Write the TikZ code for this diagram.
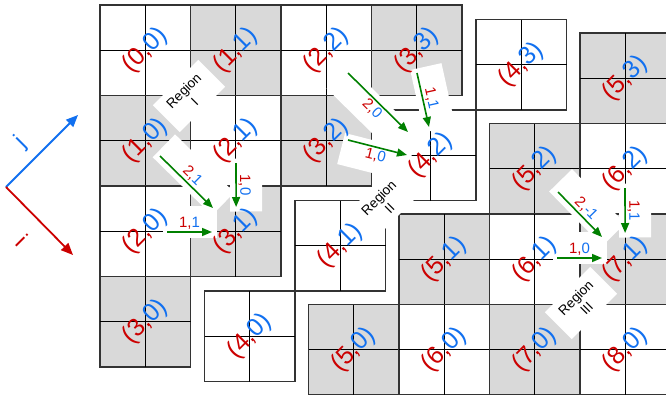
\documentclass[tikz,border=0pt]{standalone}
\usepackage{fontspec}
\setmainfont{Liberation Sans}
\usetikzlibrary{arrows.meta,calc}
\definecolor{cred}{RGB}{204,0,0}
\definecolor{cblue}{RGB}{17,112,240}
\definecolor{cgreen}{RGB}{0,128,0}
\definecolor{cgray}{RGB}{217,217,217}
\newcommand\mytile[4]{%
  \node[tile,fill=#4] (t#1#2) at (#3) {};
  \draw[crossline] (t#1#2.north) -- (t#1#2.south) (t#1#2.west) -- (t#1#2.east);}
\newcommand\mylabel[2]{%
  \node[tlab] (l#1#2) at (t#1#2) {\textcolor{cred}{(#1,}\textcolor{cblue}{#2)}};}
\begin{document}
\begin{tikzpicture}[x=1pt,y=-1pt,
  tile/.style={draw=black!80, line width=1.2pt, minimum size=90.5pt, inner sep=0pt, outer sep=0pt},
  crossline/.style={black, line width=1.1pt},
  tlab/.style={rotate=45, inner sep=0pt, font=\fontsize{25}{25}\selectfont},
  rlab/.style={fill=white, rotate=45, align=center, inner sep=1pt, minimum width=64pt, minimum height=38pt, font=\fontsize{13.5}{15.5}\selectfont},
  wabove/.style={midway, sloped, fill=white, inner sep=0pt, minimum height=32pt, anchor=south, outer sep=-6pt},
  wbelow/.style={midway, sloped, fill=white, inner sep=0pt, minimum height=32pt, anchor=north, outer sep=-6pt},
  garrow/.style={draw=cgreen, line width=1.6pt, -{Triangle[length=10pt,width=8pt]}},
  alab/.style={midway, sloped, inner sep=1.5pt, font=\fontsize{15}{15}\selectfont},
  axarrow/.style={line width=1.8pt, -{Triangle[length=12pt,width=10pt]}}]
\clip (0,0) rectangle (666,394);
\fill[white] (0,0) rectangle (666,394);
% region I grid
\mytile{0}{0}{145.25,50.25}{white}
\mytile{1}{1}{235.75,50.25}{cgray}
\mytile{2}{2}{326.25,50.25}{white}
\mytile{3}{3}{416.75,50.25}{cgray}
\mytile{1}{0}{145.25,140.75}{cgray}
\mytile{2}{1}{235.75,140.75}{white}
\mytile{3}{2}{326.25,140.75}{cgray}
\mytile{2}{0}{145.25,231.25}{white}
\mytile{3}{1}{235.75,231.25}{cgray}
\mytile{3}{0}{145.25,321.75}{cgray}
% region II
\mytile{4}{3}{521.25,64.75}{white}
\mytile{4}{2}{430.75,155.25}{white}
\mytile{4}{1}{340.25,245.75}{white}
\mytile{4}{0}{249.75,336.25}{white}
% region III
\mytile{5}{3}{625.25,78.25}{cgray}
\mytile{5}{2}{534.75,168.75}{cgray}
\mytile{6}{2}{625.25,168.75}{white}
\mytile{5}{1}{444.25,259.25}{cgray}
\mytile{6}{1}{534.75,259.25}{white}
\mytile{7}{1}{625.25,259.25}{cgray}
\mytile{5}{0}{353.75,349.75}{cgray}
\mytile{6}{0}{444.25,349.75}{white}
\mytile{7}{0}{534.75,349.75}{cgray}
\mytile{8}{0}{625.25,349.75}{white}
% arrow end points
\coordinate (a1s) at (160,156); \coordinate (a1e) at (213,208);
\coordinate (a2s) at (236,163); \coordinate (a2e) at (236.1,207);
\coordinate (a3s) at (167,232); \coordinate (a3e) at (212,232);
\coordinate (b1s) at (348,73);  \coordinate (b1e) at (408,132);
\coordinate (b2s) at (417,73);  \coordinate (b2e) at (429,127);
\coordinate (b3s) at (348,140); \coordinate (b3e) at (407,155);
\coordinate (c1s) at (558,192); \coordinate (c1e) at (602,237);
\coordinate (c2s) at (625,188); \coordinate (c2e) at (625.1,233);
\coordinate (c3s) at (557,258); \coordinate (c3e) at (602,258);
% white label boxes
\path (a1s) -- (a1e) node[wabove, minimum width=83pt] (w1) {};
\path (a2s) -- (a2e) node[wabove, minimum width=53pt] (w2) {};
\path (a3s) -- (a3e) node[wabove, minimum width=54pt] (w3) {};
\path (b1s) -- (b1e) node[wbelow, minimum width=93pt] (w4) {};
\path (b2s) -- (b2e) node[wabove, minimum width=64pt] (w5) {};
\path (b3s) -- (b3e) node[wbelow, minimum width=70pt] (w6) {};
\path (c1s) -- (c1e) node[wabove, minimum width=76pt] (w7) {};
\path (c2s) -- (c2e) node[wabove, minimum width=54pt] (w8) {};
\path (c3s) -- (c3e) node[wabove, minimum width=54pt] (w9) {};
% region labels
\node[rlab] (r1) at (189,96) {Region\\I};
\node[rlab] (r2) at (384,203) {Region\\II};
\node[rlab] (r3) at (581,303) {Region\\III};
% tile labels
\mylabel{0}{0}\mylabel{1}{1}\mylabel{2}{2}\mylabel{3}{3}
\mylabel{1}{0}\mylabel{2}{1}\mylabel{3}{2}
\mylabel{2}{0}\mylabel{3}{1}\mylabel{3}{0}
\mylabel{4}{3}\mylabel{4}{2}\mylabel{4}{1}\mylabel{4}{0}
\mylabel{5}{3}\mylabel{5}{2}\mylabel{6}{2}
\mylabel{5}{1}\mylabel{6}{1}\mylabel{7}{1}
\mylabel{5}{0}\mylabel{6}{0}\mylabel{7}{0}\mylabel{8}{0}
% arrows
\draw[garrow] (a1s) -- node[alab, above] {\textcolor{cred}{2,}\textcolor{cblue}{1}} (a1e);
\draw[garrow] (a2s) -- node[alab, above] {\textcolor{cred}{1,}\textcolor{cblue}{0}} (a2e);
\draw[garrow] (a3s) -- node[alab, above] {\textcolor{cred}{1,}\textcolor{cblue}{1}} (a3e);
\draw[garrow] (b1s) -- node[alab, below] {\textcolor{cred}{2,}\textcolor{cblue}{0}} (b1e);
\draw[garrow] (b2s) -- node[alab, above] {\textcolor{cred}{1,}\textcolor{cblue}{1}} (b2e);
\draw[garrow] (b3s) -- node[alab, below] {\textcolor{cred}{1,}\textcolor{cblue}{0}} (b3e);
\draw[garrow] (c1s) -- node[alab, above] {\textcolor{cred}{2,}\textcolor{cblue}{-1}} (c1e);
\draw[garrow] (c2s) -- node[alab, above] {\textcolor{cred}{1,}\textcolor{cblue}{1}} (c2e);
\draw[garrow] (c3s) -- node[alab, above] {\textcolor{cred}{1,}\textcolor{cblue}{0}} (c3e);
% axes
\coordinate (O) at (6,187);
\coordinate (jend) at (78,115);
\coordinate (iend) at (73,255);
\draw[axarrow, cblue] (O) -- (jend);
\draw[axarrow, cred] (O) -- (iend);
\node[rotate=45, text=cblue, inner sep=0pt, font=\fontsize{23}{23}\selectfont] (jl) at (21,142) {j};
\node[rotate=-45, text=cred, inner sep=0pt, font=\fontsize{23}{23}\selectfont] (il) at (22,240) {i};
\end{tikzpicture}
\end{document}
